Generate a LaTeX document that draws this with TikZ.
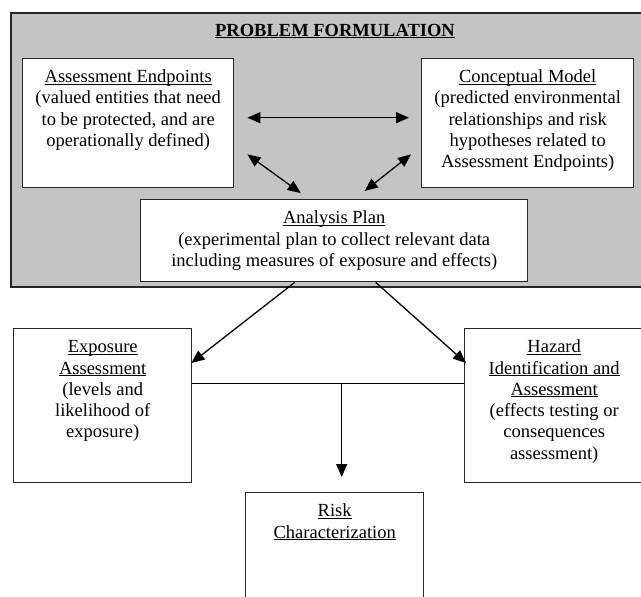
\documentclass[tikz,border=0pt]{standalone}
\usepackage{fontspec}
\setmainfont{Liberation Serif}
\usetikzlibrary{arrows.meta,calc}
\definecolor{pfgrey}{RGB}{196,196,196}
\newcommand{\uln}[1]{\leavevmode\setbox0\hbox{#1}\rlap{\rule[-2pt]{\wd0}{0.9pt}}\box0}
\newcommand{\bxtxt}[3]{\parbox[t][#2pt][t]{#1pt}{\centering\rule{0pt}{24pt}#3}}
\tikzset{
	box/.style={draw=black!85,fill=white,line width=1.4pt,inner sep=0pt,anchor=north west},
	arr/.style={line width=1.3pt,-{Triangle[length=13pt,width=11pt]}},
	darr/.style={line width=1.3pt,{Triangle[length=13pt,width=11pt]}-{Triangle[length=13pt,width=11pt]}},
}
\begin{document}
\begin{tikzpicture}[x=1pt,y=-1pt,font=\fontsize{18.5}{21.3}\selectfont]
	\useasboundingbox (0,0) rectangle (641,597);
	\draw[fill=pfgrey,draw=black!85,line width=1.4pt] (11,13) rectangle (660,287);
	\node[anchor=base] (title) at (335,36) {\bfseries\uln{PROBLEM FORMULATION}};
	\node[box] (ae) at (22,58) {\bxtxt{211}{129}{\uln{Assessment Endpoints}\\(valued entities that need\\to be protected, and are\\operationally defined)}};
	\node[box] (cm) at (421,58) {\bxtxt{212}{129}{\uln{Conceptual Model}\\(predicted environmental\\relationships and risk\\hypotheses related to\\Assessment Endpoints)}};
	\node[box] (ap) at (140,199) {\bxtxt{387}{82}{\uln{Analysis Plan}\\(experimental plan to collect relevant data\\including measures of exposure and effects)}};
	\node[box] (ex) at (13,328) {\bxtxt{178}{154}{\uln{Exposure}\\\uln{Assessment}\\(levels and\\likelihood of\\exposure)}};
	\node[box] (hz) at (464,328) {\bxtxt{179}{154}{\uln{Hazard}\\\uln{Identification and}\\\uln{Assessment}\\(effects testing or\\consequences\\assessment)}};
	\node[box] (rc) at (245,492) {\bxtxt{178}{118}{\uln{Risk}\\\uln{Characterization}}};
	\draw[darr] ([xshift=13pt,yshift=5.5pt]ae.east) -- ([xshift=-12pt,yshift=5.5pt]cm.west);
	\draw[darr] ($(ae.south east)+(13,-34)$) -- ($(ap.north)+(-33.5,-6)$);
	\draw[darr] ($(cm.south west)+(-10,-34)$) -- ($(ap.north)+(30.5,-8)$);
	\draw[arr] ($(ap.south)+(-39.5,0)$) -- ($(ex.north east)+(-1,35)$);
	\draw[arr] ($(ap.south)+(41.5,0)$) -- ($(hz.north west)+(2,35)$);
	\draw[line width=1.3pt] ([yshift=22pt]ex.east) -- ([yshift=22pt]hz.west);
	\coordinate (jn) at ($(rc.north)+(7,-109)$);
	\draw[arr] (jn) -- ($(rc.north)+(7,-15)$);
\end{tikzpicture}
\end{document}
